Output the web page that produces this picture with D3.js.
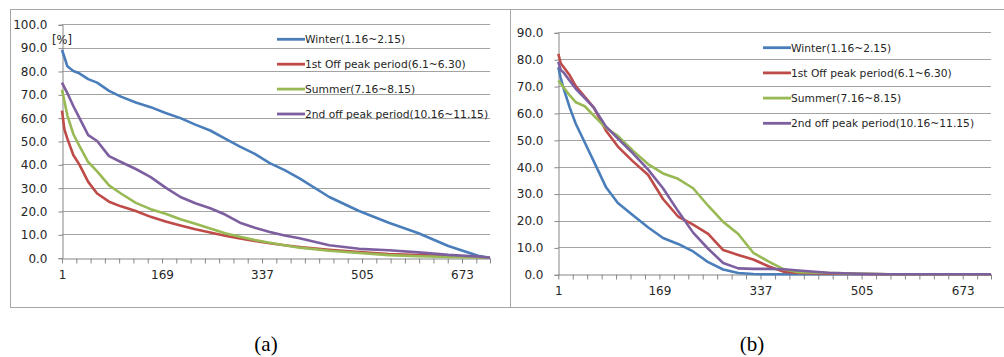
<!DOCTYPE html>
<html>
<head>
<meta charset="utf-8">
<script src="https://cdn.jsdelivr.net/npm/d3@7"></script>
<style>
  body { margin: 0; background: #fff; }
  svg { display: block; }
  .tick-label { font-family: "DejaVu Sans", sans-serif; font-size: 12px; fill: #262626; }
  .legend-label { font-family: "DejaVu Sans", sans-serif; font-size: 10.7px; fill: #262626; }
  .caption { font-family: "Liberation Serif", serif; font-size: 21px; fill: #000; }
</style>
</head>
<body>
<div class="chart"></div>
<script>
// ---------------- data ----------------
var seriesNames = [
  "Winter(1.16~2.15)",
  "1st Off peak period(6.1~6.30)",
  "Summer(7.16~8.15)",
  "2nd off peak period(10.16~11.15)"
];
var seriesColors = ["#4a7ebb", "#be4b48", "#98b954", "#7d5fa0"];

// ranked hours at which the curves were read
var hours = [1, 5, 10, 20, 30, 45, 60, 80, 100, 125, 150, 175, 200, 225, 250,
             275, 300, 325, 350, 375, 400, 450, 500, 550, 600, 650, 700, 720];

var xTickLabels = [1, 169, 337, 505, 673];

// (a)
var winterA  = [89, 86, 82, 80, 79, 76.5, 75, 71.5, 69, 66.5, 64.5, 62, 59.8, 57, 54.5,
                51, 47.6, 44.5, 40.5, 37.5, 34, 26, 20, 15, 10.5, 5, 0.8, 0];
var offPeak1A = [63, 55, 51, 44, 40, 32.5, 27.5, 24, 22, 20, 17.5, 15.5, 13.8, 12.2, 10.8,
                9.4, 8.2, 7.2, 6.2, 5.3, 4.6, 3.4, 2.4, 1.6, 1.1, 0.7, 0.3, 0];
var summerA  = [72, 67, 61, 53, 48, 41, 37, 31, 27.5, 23.5, 20.8, 18.8, 16.5, 14.5, 12.5,
                10.5, 9, 7.6, 6.4, 5.3, 4.3, 3, 2, 1.1, 0.6, 0.3, 0.1, 0];
var offPeak2A = [75, 73, 70.5, 65, 60, 52.5, 50, 43.5, 41, 38, 34.5, 30, 26, 23.3, 21.2,
                18.5, 15, 12.8, 11, 9.5, 8.3, 5.3, 3.8, 3.2, 2.3, 1.2, 0.5, 0];
var yTicksA = [0, 10, 20, 30, 40, 50, 60, 70, 80, 90, 100];

// (b)
var winterB  = [77, 73, 69, 62, 56, 49, 42, 32.5, 26.5, 22, 17.5, 13.5, 11.3, 8.5, 4.5,
                1.8, 0.5, 0.1, 0, 0, 0, 0, 0, 0, 0, 0, 0, 0];
var offPeak1B = [82, 78.5, 77, 74, 70, 66, 62, 53.5, 47.5, 42, 37, 28, 21.5, 18.5, 15,
                9, 7.2, 5.5, 3, 1, 0.5, 0.2, 0.1, 0, 0, 0, 0, 0];
var summerB  = [72, 71, 69.5, 66.5, 64, 62.5, 59, 54.5, 51.5, 46, 41, 37.5, 35.5, 32, 25.5,
                19.5, 15, 8, 4.8, 1.9, 0.8, 0.5, 0.3, 0, 0, 0, 0, 0];
var offPeak2B = [79, 76, 75, 72, 69, 65.5, 62, 55, 50.5, 45, 39, 32, 23.5, 15.5, 9.5,
                4.2, 2.2, 2, 2, 1.9, 1.4, 0.6, 0.2, 0, 0, 0, 0, 0];
var yTicksB = [0, 10, 20, 30, 40, 50, 60, 70, 80, 90];

// ---------------- svg ----------------
var svgWidth = 1004;
var svgHeight = 357;

var svg = d3.select(".chart")
  .append("svg")
  .attr("width", svgWidth)
  .attr("height", svgHeight);

function drawChart(cfg) {
  var g = svg.append("g");

  // outer frame
  g.append("rect")
    .attr("x", cfg.frame[0] + 0.5)
    .attr("y", cfg.frame[1] + 0.5)
    .attr("width", cfg.frame[2])
    .attr("height", cfg.frame[3])
    .attr("fill", "none")
    .attr("stroke", "#a6a6a6");

  var xScale = d3.scaleLinear()
    .domain([1, 720])
    .range([cfg.left, cfg.right]);

  var yScale = d3.scaleLinear()
    .domain([0, d3.max(cfg.yTicks)])
    .range([cfg.bottom, cfg.top]);

  // gridlines
  g.selectAll(".grid")
    .data(cfg.yTicks.filter(d => d > 0))
    .enter()
    .append("line")
    .attr("x1", cfg.left)
    .attr("x2", cfg.right)
    .attr("y1", d => Math.round(yScale(d)) + 0.5)
    .attr("y2", d => Math.round(yScale(d)) + 0.5)
    .attr("stroke", "#a3a3a3");

  // y axis
  var yAxis = d3.axisLeft(yScale)
    .tickValues(cfg.yTicks)
    .tickSize(4)
    .tickPadding(11)
    .tickFormat(d3.format(".1f"));

  var yG = g.append("g")
    .attr("transform", `translate(${Math.round(cfg.left) + 0.5}, 0.5)`)
    .call(yAxis);
  yG.select(".domain").attr("stroke", "#868686");
  yG.selectAll(".tick line").attr("stroke", "#868686");
  yG.selectAll(".tick text").attr("class", "tick-label").attr("font-family", null).attr("font-size", null);

  // x axis: minor ticks every 24 hours, labels every 168
  var minorTicks = d3.range(1, 720, 24).concat([720]);
  var xAxis = d3.axisBottom(xScale)
    .tickValues(minorTicks)
    .tickSize(5)
    .tickSizeOuter(0)
    .tickFormat(d => xTickLabels.indexOf(d) >= 0 ? d : "");

  var xG = g.append("g")
    .attr("transform", `translate(0, ${Math.round(cfg.bottom) + 0.5})`)
    .call(xAxis);
  xG.select(".domain").attr("stroke", "#868686");
  xG.selectAll(".tick line").attr("stroke", "#868686");
  xG.selectAll(".tick text")
    .attr("class", "tick-label")
    .attr("font-family", null)
    .attr("font-size", null)
    .attr("dy", "1.05em")
    .attr("y", 8);

  // series lines
  var line = d3.line()
    .x((d, i) => xScale(hours[i]))
    .y(d => yScale(d));

  cfg.series.forEach(function(values, i) {
    g.append("path")
      .datum(values)
      .attr("d", line)
      .attr("fill", "none")
      .attr("stroke", seriesColors[i])
      .attr("stroke-width", 2.6)
      .attr("stroke-linejoin", "round");
  });

  // legend
  var legend = g.append("g")
    .attr("transform", `translate(${cfg.legendX}, ${cfg.legendY})`);

  seriesNames.forEach(function(name, i) {
    var row = legend.append("g")
      .attr("transform", `translate(0, ${i * cfg.legendStep})`);
    row.append("line")
      .attr("x1", 0)
      .attr("x2", 28)
      .attr("stroke", seriesColors[i])
      .attr("stroke-width", 2.8);
    row.append("text")
      .attr("class", "legend-label")
      .attr("x", 28)
      .attr("dy", "0.36em")
      .text(name);
  });

  if (cfg.unit) {
    g.append("text")
      .attr("class", "legend-label")
      .attr("x", cfg.left - 10)
      .attr("y", cfg.top + 20)
      .style("font-size", "11.5px")
      .text(cfg.unit);
  }

  // caption
  svg.append("text")
    .attr("class", "caption")
    .attr("x", cfg.captionX)
    .attr("y", 351)
    .attr("text-anchor", "middle")
    .text(cfg.caption);
}

drawChart({
  frame: [10, 9, 500, 298],
  left: 62, right: 490, top: 24.3, bottom: 257.7,
  yTicks: yTicksA,
  series: [winterA, offPeak1A, summerA, offPeak2A],
  legendX: 277, legendY: 39.3, legendStep: 24.9,
  unit: "[%]",
  caption: "(a)", captionX: 266
});

drawChart({
  frame: [510, 9, 500, 298],
  left: 558.3, right: 991, top: 32.3, bottom: 274.3,
  yTicks: yTicksB,
  series: [winterB, offPeak1B, summerB, offPeak2B],
  legendX: 763, legendY: 47.7, legendStep: 25.2,
  caption: "(b)", captionX: 752
});
</script>
</body>
</html>
